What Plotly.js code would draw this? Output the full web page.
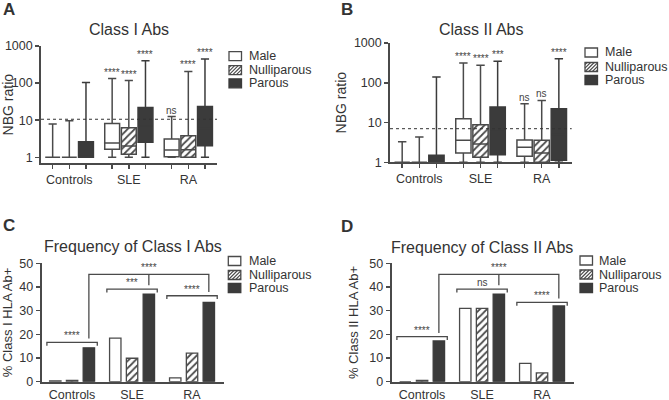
<!DOCTYPE html>
<html><head><meta charset="utf-8">
<script src="https://cdn.plot.ly/plotly-3.0.1.min.js"></script>
<style>html,body{margin:0;padding:0;background:#fff}#chart{width:669px;height:400px}</style>
</head><body><div id="chart"></div>
<script>
// ---------- DATA ----------
const groups = ['Controls', 'SLE', 'RA'];
const seriesNames = ['Male', 'Nulliparous', 'Parous'];
const logTickVals = [1, 10, 100, 1000];
const logTickText = ['1', '10', '100', '1000'];
const pctTickVals = [0, 10, 20, 30, 40, 50];

// Panel A: Class I Abs, NBG ratio box stats (rows: Male, Nulliparous, Parous; cols: Controls, SLE, RA)
const A_low  = [[1, 1, 1], [1, 1, 1], [1, 1, 1]];
const A_q1   = [[1, 1.64, 1.04], [1, 1.2, 1.0], [1, 2.54, 2.06]];
const A_med  = [[1, 2.43, 1.57], [1, 2.0, 1.6], [1, 7, 6]];
const A_q3   = [[1, 8.1, 3.1], [1, 6.3, 3.8], [2.64, 21.9, 23.3]];
const A_high = [[7.9, 133, 12.5], [9.7, 117, 206], [104, 400, 445]];
const A_sig  = [['', '****', 'ns'], ['', '****', '****'], ['', '****', '****']];
const A_cutoff = 10.6;

// Panel B: Class II Abs
const B_low  = [[1, 1, 1], [1, 1, 1], [1, 1, 1]];
const B_q1   = [[1, 1.71, 1.41], [1, 1.33, 1.0], [1, 1.55, 1.12]];
const B_med  = [[1, 3.57, 2.38], [1, 2.88, 1.71], [1, 6, 5]];
const B_q3   = [[1, 12.5, 3.63], [1, 8.8, 3.6], [1.5, 24.5, 22.2]];
const B_high = [[3.3, 313, 29.7], [4.3, 274, 36], [139, 346, 400]];
const B_sig  = [['', '****', 'ns'], ['', '****', 'ns'], ['', '***', '****']];
const B_cutoff = 7.0;

// Panel C: % Class I HLA Ab+
const C_pct = [[0.3, 18.4, 1.6], [0.6, 9.9, 12.1], [14.3, 37.0, 33.5]];
const C_sigWithin = ['****', '***', '****'];
const C_sigAcross = '****';

// Panel D: % Class II HLA Ab+
const D_pct = [[0, 31.0, 7.7], [0.5, 31.0, 3.7], [17.2, 37.0, 32.0]];
const D_sigWithin = ['****', 'ns', '****'];
const D_sigAcross = '****';

// ---------- STYLE / GEOMETRY ----------
const W = 669, H = 400;
const OFF = 0.28;
const FONT = '"Liberation Sans", Arial, sans-serif';
const INK = '#333333';
const LINE = '#4a4a4a';
const DARK = '#3b3b3b';
const px = x => x / W;
const py = y => 1 - y / H;
const pos = (g, s) => g + (s - 1) * OFF;

const traces = [], shapes = [], annotations = [];
const fills = ['#ffffff', 'rgba(0,0,0,0)', DARK];
const lineCols = [LINE, LINE, DARK];
const hatch = {shape: '/', fgcolor: LINE, bgcolor: '#ffffff', size: 5, solidity: 0.35};
const sigFont = {size: 10, color: '#444444', family: FONT};

function boxPanel(xa, ya, low, q1, med, q3, high, sig, cutoff) {
  seriesNames.forEach((name, s) => {
    const xs = groups.map((_, g) => pos(g, s));
    if (s === 1) {
      traces.push({type: 'bar', xaxis: xa, yaxis: ya, x: xs, base: q1[s],
        y: q3[s].map((v, i) => v - q1[s][i]), width: 0.25,
        marker: {color: '#ffffff', pattern: hatch, line: {width: 0}},
        showlegend: false, hoverinfo: 'skip'});
    }
    traces.push({type: 'box', name: name, xaxis: xa, yaxis: ya, x: xs,
      q1: q1[s], median: med[s], q3: q3[s], lowerfence: low[s], upperfence: high[s],
      width: 0.25, whiskerwidth: 0.55, fillcolor: fills[s],
      line: {color: lineCols[s], width: 1.5}, boxpoints: false,
      showlegend: false, hoverinfo: 'skip'});
    groups.forEach((_, g) => {
      if (sig[s][g]) annotations.push({xref: xa, yref: ya, x: pos(g, s), y: Math.log10(high[s][g]),
        text: sig[s][g], showarrow: false, yanchor: 'bottom', yshift: -1, font: sigFont});
    });
  });
  shapes.push({type: 'line', xref: xa + ' domain', yref: ya, x0: 0, x1: 1,
    y0: cutoff, y1: cutoff, line: {color: '#333', width: 1, dash: 'dot'}});
}

function barPanel(xa, ya, pct) {
  seriesNames.forEach((name, s) => {
    traces.push({type: 'bar', name: name, xaxis: xa, yaxis: ya,
      x: groups.map((_, g) => pos(g, s)), y: pct[s], width: 0.19,
      marker: s === 1 ? {color: '#ffffff', pattern: hatch, line: {color: LINE, width: 1.3}}
                      : {color: fills[s], line: {color: lineCols[s], width: 1.3}},
      showlegend: false, hoverinfo: 'skip'});
  });
}

function brackets(xa, ya, levels, sigWithin, sigAcross, top) {
  const leg = 1.4, gap = 1.6, half = 0.42;
  const ln = {color: LINE, width: 1.3};
  groups.forEach((_, g) => {
    const y = levels[g];
    shapes.push({type: 'path', xref: xa, yref: ya, line: ln,
      path: `M${g - half},${y - leg} L${g - half},${y} L${g + half},${y} L${g + half},${y - leg}`});
    annotations.push({xref: xa, yref: ya, x: g, y: y, text: sigWithin[g], showarrow: false,
      yanchor: 'bottom', yshift: -1, font: sigFont});
  });
  const xl = pos(0, 2), xr = pos(2, 2), xc = (xl + xr) / 2;
  shapes.push({type: 'path', xref: xa, yref: ya, line: ln,
    path: `M${xl},${levels[0] + gap} L${xl},${top} L${xr},${top} L${xr},${levels[2] + gap}`});
  shapes.push({type: 'path', xref: xa, yref: ya, line: ln,
    path: `M${xc},${top} L${xc},${levels[1] + gap}`});
  annotations.push({xref: xa, yref: ya, x: xc, y: top, text: sigAcross, showarrow: false,
    yanchor: 'bottom', yshift: -1, font: sigFont});
}

function legendBox(sqX, rows, textX) {
  rows.forEach((cy, s) => {
    const x0 = sqX, x1 = sqX + 12.5, y0 = cy - 4.5, y1 = cy + 4.5;
    shapes.push({type: 'rect', xref: 'paper', yref: 'paper', x0: px(x0), x1: px(x1), y0: py(y1), y1: py(y0),
      fillcolor: s === 2 ? DARK : '#ffffff', line: {color: s === 2 ? DARK : LINE, width: 1.3}});
    if (s === 1) {
      let p = '';
      for (let c = x0 + y0 + 2; c < x1 + y1; c += 3.6) {
        const xa = Math.max(x0, c - y1), xb = Math.min(x1, c - y0);
        if (xb > xa) p += `M${px(xa)},${py(c - xa)} L${px(xb)},${py(c - xb)} `;
      }
      shapes.push({type: 'path', xref: 'paper', yref: 'paper', path: p, line: {color: LINE, width: 1.1}});
    }
    annotations.push({xref: 'paper', yref: 'paper', x: px(textX), y: py(cy), xanchor: 'left', yanchor: 'middle',
      text: seriesNames[s], showarrow: false, font: {size: 12.5, color: INK, family: FONT}});
  });
}

function label(text, x, y, size, bold) {
  annotations.push({xref: 'paper', yref: 'paper', x: px(x), y: py(y), xanchor: 'center', yanchor: 'middle',
    text: bold ? '<b>' + text + '</b>' : text, showarrow: false, font: {size: size, color: INK, family: FONT}});
}

// ---------- BUILD ----------
boxPanel('x', 'y', A_low, A_q1, A_med, A_q3, A_high, A_sig, A_cutoff);
boxPanel('x2', 'y2', B_low, B_q1, B_med, B_q3, B_high, B_sig, B_cutoff);
barPanel('x3', 'y3', C_pct);
barPanel('x4', 'y4', D_pct);
brackets('x3', 'y3', [16.6, 39.1, 36.3], C_sigWithin, C_sigAcross, 45.3);
brackets('x4', 'y4', [19.0, 39.1, 33.5], D_sigWithin, D_sigAcross, 45.3);

legendBox(229, [56.2, 70.2, 83.3], 247);
legendBox(585, [52.5, 67, 80], 603);
legendBox(228.3, [261, 275, 288], 247);
legendBox(580, [260.5, 274.5, 288], 597);

label('Class I Abs', 129, 30, 16);
label('Class II Abs', 481, 29, 16);
label('Frequency of Class I Abs', 132.7, 246, 16);
label('Frequency of Class II Abs', 482, 247, 16);
label('A', 8.5, 9.5, 17, true);
label('B', 346.5, 9.5, 17, true);
label('C', 8.5, 225.5, 17, true);
label('D', 346.5, 226.5, 17, true);

const boxTickVals = [], boxTickText = [];
groups.forEach((gname, g) => seriesNames.forEach((_, s) => {
  boxTickVals.push(pos(g, s)); boxTickText.push(s === 1 ? gname : '');
}));

const base = {showline: true, linecolor: LINE, linewidth: 1.8, showgrid: false, zeroline: false,
  ticks: 'outside', ticklen: 4, tickwidth: 1.5, tickcolor: LINE,
  tickfont: {size: 12.5, color: INK, family: FONT}, fixedrange: true};

const layout = {
  width: W, height: H, margin: {l: 0, r: 0, t: 0, b: 0},
  paper_bgcolor: '#ffffff', plot_bgcolor: 'rgba(0,0,0,0)',
  showlegend: false, boxmode: 'overlay', barmode: 'overlay', hovermode: false,
  font: {family: FONT, color: INK},
  xaxis: Object.assign({}, base, {domain: [px(41), px(217)], range: [-0.476, 2.482], anchor: 'y',
    tickvals: boxTickVals, ticktext: boxTickText}),
  yaxis: Object.assign({}, base, {domain: [py(163.3), py(46)], type: 'log', range: [-0.162, 3.0], anchor: 'x',
    tickvals: logTickVals, ticktext: logTickText,
    title: {text: 'NBG ratio', font: {size: 14, color: INK, family: FONT}, standoff: 4}}),
  xaxis2: Object.assign({}, base, {domain: [px(390), px(571.7)], range: [-0.479, 2.49], anchor: 'y2',
    tickvals: boxTickVals, ticktext: boxTickText}),
  yaxis2: Object.assign({}, base, {domain: [py(162.3), py(43)], type: 'log', range: [0, 3.0], anchor: 'x2',
    tickvals: logTickVals, ticktext: logTickText,
    title: {text: 'NBG ratio', font: {size: 14, color: INK, family: FONT}, standoff: 4}}),
  xaxis3: Object.assign({}, base, {domain: [px(41.5), px(224)], range: [-0.51, 2.533], anchor: 'y3',
    tickvals: [0, 1, 2], ticktext: groups, ticks: ''}),
  yaxis3: Object.assign({}, base, {domain: [py(381.7), py(263.3)], range: [0, 50], anchor: 'x3',
    tickvals: pctTickVals,
    title: {text: '% Class I HLA Ab+', font: {size: 13, color: INK, family: FONT}, standoff: 8}}),
  xaxis4: Object.assign({}, base, {domain: [px(391.5), px(574)], range: [-0.51, 2.533], anchor: 'y4',
    tickvals: [0, 1, 2], ticktext: groups, ticks: ''}),
  yaxis4: Object.assign({}, base, {domain: [py(381.7), py(263.3)], range: [0, 50], anchor: 'x4',
    tickvals: pctTickVals,
    title: {text: '% Class II HLA Ab+', font: {size: 13, color: INK, family: FONT}, standoff: 8}}),
  shapes: shapes,
  annotations: annotations
};

Plotly.newPlot('chart', traces, layout, {staticPlot: true, displayModeBar: false});
</script>
</body></html>
